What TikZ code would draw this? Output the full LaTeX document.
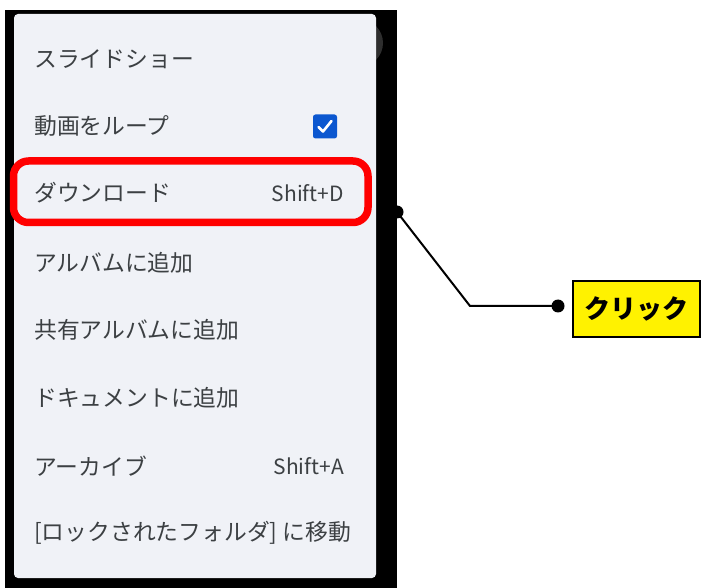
\documentclass[tikz,border=0pt]{standalone}
\usepackage{fontspec}
\setmainfont{Noto Sans CJK JP}
\usetikzlibrary{positioning}
\definecolor{menubg}{HTML}{F0F2F7}
\definecolor{menutext}{HTML}{3C4043}
\definecolor{checkblue}{HTML}{0B57D0}
\begin{document}
\begin{tikzpicture}[x=1pt,y=-1pt]
\tikzstyle{every node}+=[inner sep=0pt]
\tikzstyle{item}=[anchor=west,text=menutext,font=\fontsize{22.8}{23}\selectfont]
\tikzstyle{key}=[anchor=east,text=menutext,font=\fontsize{21}{21}\selectfont]
\tikzstyle{dot}=[circle,fill=black,minimum size=13pt]
\useasboundingbox (0,0) rectangle (702,588);
\fill [white] (0,0) rectangle (702,588);
\fill [black] (5,10) rectangle (397,588);
\fill [black!82] (359,43) circle (24);
\fill [menubg,rounded corners=4] (14,14) rectangle (376,578);
\node [item] (slide) at (34,59) {スライドショー};
\node [item] (loop) at (34,126) {動画をループ};
\node [item] (down) at (34,193) {ダウンロード};
\node [item] (album) at (34,263) {アルバムに追加};
\node [item] (share) at (34,330) {共有アルバムに追加};
\node [item] (doc) at (34,398) {ドキュメントに追加};
\node [item] (arch) at (34,466) {アーカイブ};
\node [item] (lock) at (34,533) {[ロックされたフォルダ] に移動};
\node [key] (keyd) at (344,193) {Shift+D};
\node [key] (keya) at (344,466) {Shift+A};
\node [fill=checkblue,rounded corners=2.5,minimum size=24pt] (check) at (325,126.5) {};
\draw [white,line width=2.6,line cap=round,line join=round] (318.5,127) -- (323,131.5) -- (331.5,121);
\draw [red,line width=7.5,rounded corners=15] (13.5,161) rectangle (368,222.5);
\node [dot] (d1) at (397,212) {};
\node [dot] (d2) at (558,306) {};
\coordinate (bend) at (470,306);
\draw [black,line width=2] (d1.center) -- (bend) -- (d2.center);
\node [draw,fill=yellow,line width=1.5,minimum width=127pt,minimum height=56pt,
  font=\fontsize{26}{26}\selectfont\bfseries] (click) at (636.5,309) {クリック};
\end{tikzpicture}
\end{document}
